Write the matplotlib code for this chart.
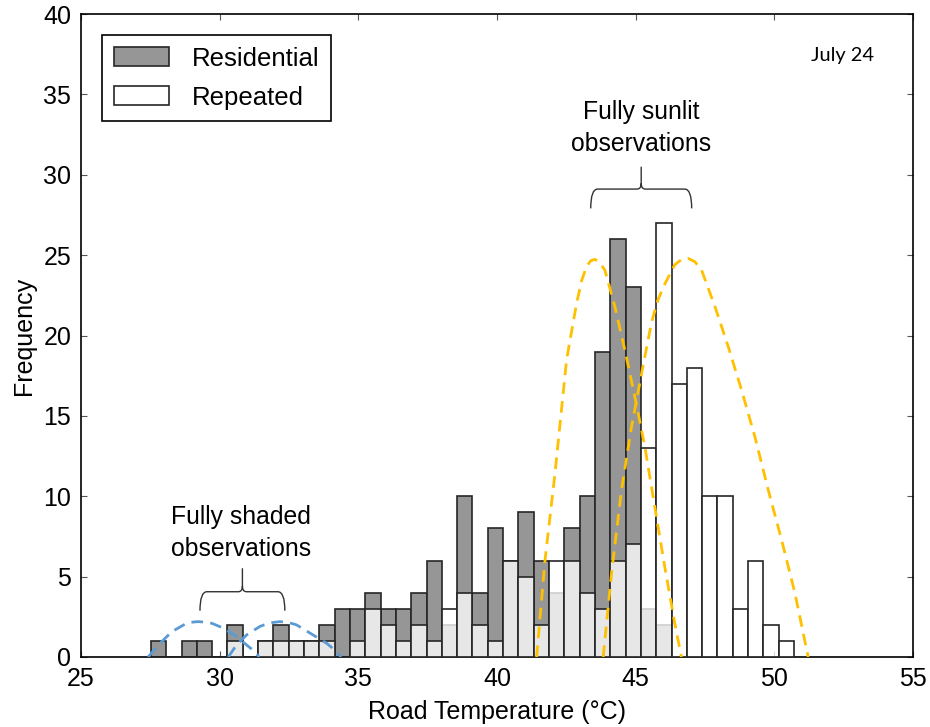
import numpy as np
import matplotlib
matplotlib.use("Agg")
import matplotlib.pyplot as plt
from matplotlib.path import Path
from matplotlib.patches import PathPatch

# histogram bins (deg C) and counts per bin
bin_edges = np.linspace(27.52, 50.71, 43)
residential = [1, 0, 1, 1, 0, 2, 0, 1, 2, 1, 1, 2, 3, 3, 4, 3, 3, 4, 6, 2, 10,
               4, 8, 6, 9, 6, 4, 8, 10, 19, 26, 23, 3, 2, 0, 0, 0, 0, 0, 0, 0, 0]
repeated = [0, 0, 0, 0, 0, 1, 0, 1, 1, 1, 1, 1, 0, 1, 3, 2, 1, 2, 1, 3, 4,
            2, 1, 6, 5, 2, 6, 6, 4, 3, 6, 7, 13, 27, 17, 18, 10, 10, 3, 6, 2, 1]

# hand drawn fit curves
shade1_x = [27.42, 27.85, 28.27, 28.81, 29.02, 29.23, 29.47, 29.71, 30.13, 30.61, 30.97, 31.27, 31.42]
shade1_y = [0.0, 0.85, 1.57, 2.1, 2.17, 2.2, 2.17, 2.1, 1.8, 1.27, 0.75, 0.33, 0.0]
shade2_x = [30.31, 30.61, 30.97, 31.45, 31.8, 32.17, 32.47, 32.77, 33.37, 33.86, 34.22, 34.38]
shade2_y = [0.0, 0.75, 1.37, 1.9, 2.12, 2.2, 2.15, 2.0, 1.37, 0.85, 0.33, 0.0]
sun1_x = [41.43, 41.73, 42.09, 42.51, 42.87, 43.05, 43.23, 43.38, 43.53, 43.70, 43.89,
          44.25, 44.61, 44.97, 45.33, 45.69, 46.05, 46.41, 46.65]
sun1_y = [0.0, 6.0, 11.4, 18.5, 22.0, 23.4, 24.3, 24.65, 24.74, 24.55, 24.07,
          21.8, 19.1, 16.2, 13.1, 9.35, 5.6, 2.1, 0.0]
sun2_x = [43.83, 44.13, 44.49, 44.85, 45.21, 45.57, 45.80, 46.05, 46.41, 46.65, 46.89,
          47.13, 47.37, 47.86, 48.34, 48.82, 49.30, 49.78, 50.26, 50.74, 51.22]
sun2_y = [0.0, 5.2, 10.4, 14.3, 17.6, 20.8, 22.2, 23.2, 24.4, 24.72, 24.8,
          24.6, 24.1, 21.8, 19.3, 16.6, 13.7, 10.4, 7.3, 4.0, 0.0]

FONT = ["Liberation Sans", "DejaVu Sans"]
plt.rcParams["font.family"] = FONT


def brace(ax, x0, x1, y_end, y_bar, y_tip, r=0.25):
    """Curly brace pointing up, drawn in data coords."""
    xm = (x0 + x1) / 2
    dy = (y_bar - y_end)
    verts = [(x0, y_end), (x0, y_bar), (x0 + r, y_bar),
             (xm - r * 0.6, y_bar), (xm, y_bar), (xm, y_bar + dy * 0.3), (xm, y_tip),
             (xm, y_bar + dy * 0.3), (xm, y_bar), (xm + r * 0.6, y_bar),
             (x1 - r, y_bar), (x1, y_bar), (x1, y_end)]
    codes = [Path.MOVETO, Path.CURVE3, Path.CURVE3,
             Path.LINETO, Path.CURVE3, Path.CURVE3, Path.LINETO,
             Path.MOVETO, Path.CURVE3, Path.CURVE3,
             Path.LINETO, Path.CURVE3, Path.CURVE3]
    ax.add_patch(PathPatch(Path(verts, codes), fill=False, ec="#333333", lw=1.0))


fig = plt.figure(figsize=(9.3, 7.27), dpi=100)
ax = fig.add_axes([0.0871, 0.0963, 0.8946, 0.8844])

left = bin_edges[:-1]
width = np.diff(bin_edges)
ax.bar(left, residential, width=width, align="edge", facecolor="#969696",
       edgecolor="#262626", linewidth=1.2, label="Residential", zorder=2)
ax.bar(left, repeated, width=width, align="edge", facecolor=(1, 1, 1, 0.78),
       edgecolor="#262626", linewidth=1.2, label="Repeated", zorder=3)

for xs, ys in [(shade1_x, shade1_y), (shade2_x, shade2_y)]:
    ax.plot(xs, ys, color="#5b9bd5", lw=2.0, ls=(0, (4.2, 2.6)), zorder=4)
for xs, ys in [(sun1_x, sun1_y), (sun2_x, sun2_y)]:
    ax.plot(xs, ys, color="#ffc000", lw=2.0, ls=(0, (4.2, 2.6)), zorder=4)

brace(ax, 29.29, 32.35, 2.88, 4.06, 5.52)
brace(ax, 43.38, 47.02, 27.91, 29.11, 30.5)

ax.text(30.76, 7.71, "Fully shaded\nobservations", ha="center", va="center",
        fontsize=17.8, linespacing=1.4)
ax.text(45.21, 32.9, "Fully sunlit\nobservations", ha="center", va="center",
        fontsize=17.8, linespacing=1.4)
ax.text(52.45, 37.42, "July 24", ha="center", va="center", fontsize=14.4,
        family=["Lato", "DejaVu Sans"])

ax.set_xlim(25, 55)
ax.set_ylim(0, 40)
ax.set_xticks(range(25, 56, 5))
ax.set_yticks(range(0, 41, 5))
ax.tick_params(direction="in", top=True, right=True, length=4, width=0.8,
               color="#555555", labelsize=18, pad=7)
for s in ax.spines.values():
    s.set_linewidth(1.2)
ax.set_xlabel("Road Temperature (°C)", fontsize=18, labelpad=7)
ax.set_ylabel("Frequency", fontsize=18, labelpad=5)

leg = ax.legend(loc="upper left", fontsize=18.5, fancybox=False, framealpha=1,
                edgecolor="black", handlelength=2.14, handleheight=0.74,
                handletextpad=0.92, labelspacing=0.58, borderaxespad=0.82,
                borderpad=0.45)
leg.get_frame().set_linewidth(1.2)

fig.savefig("out.png", dpi=100)
